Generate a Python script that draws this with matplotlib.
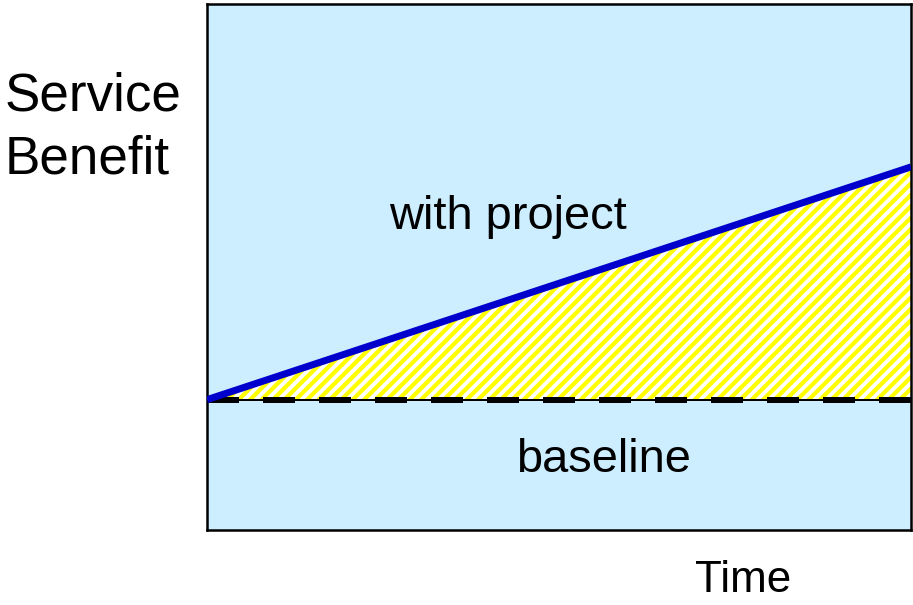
import matplotlib.pyplot as plt
import numpy as np
from matplotlib.collections import LineCollection
from matplotlib.transforms import IdentityTransform

DPI = 100
W, H = 913, 605


def px(v):
    # pixel length -> points at the figure dpi
    return v * 72.0 / DPI


plt.rcParams['font.family'] = ['Liberation Sans', 'DejaVu Sans']

# time runs from project start to end; benefits relative to baseline
time = [0.0, 1.0]
baseline = [0.0, 0.0]
with_project = [0.0, 1.0]

fig = plt.figure(figsize=(W / DPI, H / DPI), dpi=DPI)
ax = fig.add_axes([207 / W, 75 / H, 704 / W, 526 / H])
ax.set_facecolor('#cceeff')
ax.set_xlim(0, 1)
ax.set_ylim(-0.56, 1.70)

# gained benefit between the two scenarios, white with yellow stripes
gain = ax.fill_between(time, baseline, with_project, facecolor='white',
                       linewidth=0, zorder=2)
step = 11.4
starts = np.arange(-H, W + step, step)
stripes = LineCollection([[(x0, 0), (x0 + H, H)] for x0 in starts],
                         colors='#ffff00', linewidths=px(4.2),
                         transform=IdentityTransform(), zorder=2.5)
ax.add_collection(stripes, autolim=False)
stripes.set_clip_path(gain.get_paths()[0], gain.get_transform())

ax.plot(time, with_project, color='black', lw=px(1.5), zorder=3)
ax.plot(time, baseline, color='black', lw=px(2), zorder=3)
ax.plot(time, baseline, color='black', lw=px(6),
        dashes=(32 / 6, 24 / 6), dash_capstyle='butt', zorder=4)
ax.plot(time, with_project, color='#0000cc', lw=px(7), zorder=5,
        solid_capstyle='butt')

ax.set_xticks([])
ax.set_yticks([])
for s in ax.spines.values():
    s.set_linewidth(px(2.5))
    s.set_color('black')

ax.text(0.4276, 0.785, 'with project', fontsize=px(47), ha='center', va='center')
ax.text(0.5625, -0.26, 'baseline', fontsize=px(47), ha='center', va='center')
fig.text(5 / W, 1 - 128 / H, 'Service\nBenefit', fontsize=px(53),
         ha='left', va='center', linespacing=1.33)
fig.text(743 / W, 1 - 592 / H, 'Time', fontsize=px(44), ha='center',
         va='baseline')

fig.savefig('out.png', dpi=DPI)
